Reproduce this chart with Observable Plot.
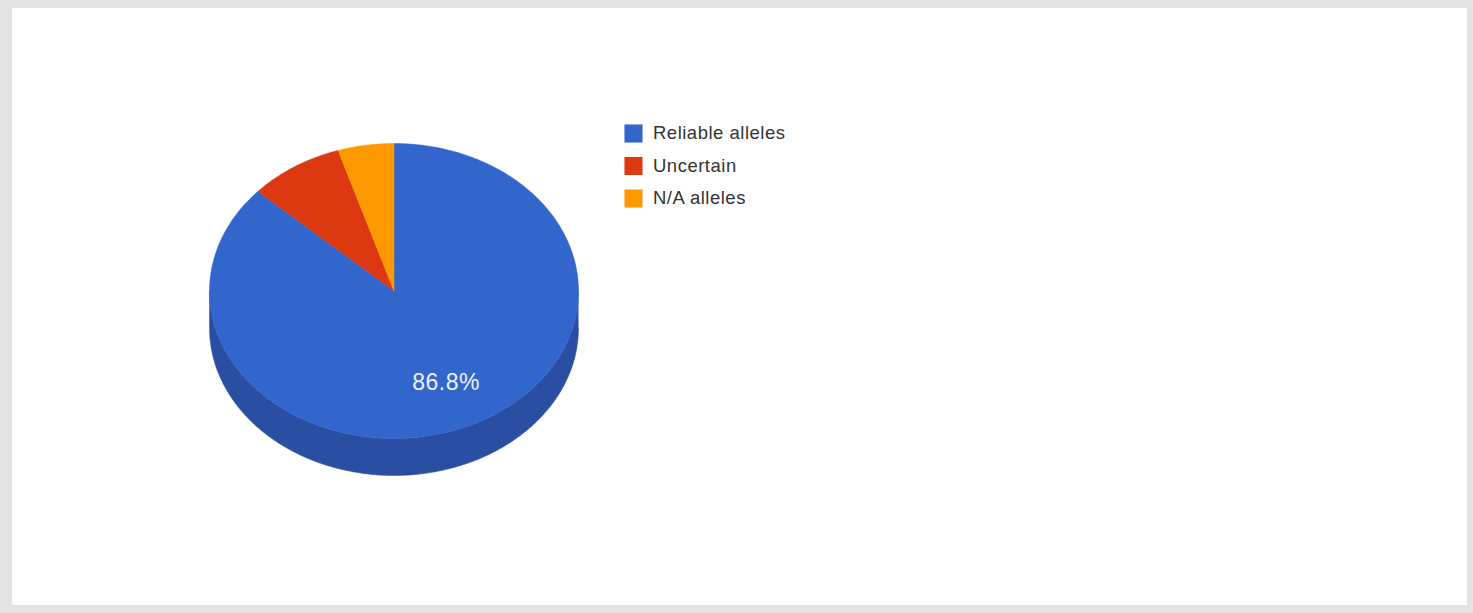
<!DOCTYPE html>
<html>
<head>
<meta charset="utf-8">
<script src="https://cdn.jsdelivr.net/npm/d3@7"></script>
<script src="https://cdn.jsdelivr.net/npm/@observablehq/plot@0.6"></script>
<style>
  html, body { margin: 0; padding: 0; }
  body { width: 1473px; height: 613px; background: #e3e3e3; position: relative; overflow: hidden; }
  #panel { position: absolute; left: 12px; top: 8px; width: 1455px; height: 597px; background: #ffffff; }
  #panel svg { display: block; }
  #panel svg text { letter-spacing: 0.5px; }
</style>
</head>
<body>
<div id="panel"></div>
<script>
// ---- data ----
const categories = ["Reliable alleles", "Uncertain", "N/A alleles"];
const values = [86.8, 8.3, 4.9];
const colors = ["#3366cc", "#dc3912", "#ff9900"];
const sideColor = "#2a4fa2";
const labelText = ["86.8%", "", ""];

// ---- layout ----
const W = 1455, H = 597;
const cx = 381.5, cy = 282.5, rx = 184.5, ry = 147.5, depth = 37;
const pt = (a, dy = 0) => ({x: cx + rx * Math.sin(a), y: cy - ry * Math.cos(a) + dy});

const total = d3.sum(values);
let acc = 0;
const slices = categories.map((c, i) => {
  const a0 = acc / total * 2 * Math.PI;
  acc += values[i];
  const a1 = acc / total * 2 * Math.PI;
  return {category: c, value: values[i], a0, a1, label: labelText[i]};
});

// top face polygons
const topPts = [];
for (const s of slices) {
  topPts.push({category: s.category, x: cx, y: cy});
  const n = Math.max(2, Math.ceil((s.a1 - s.a0) / (Math.PI / 180)));
  for (let k = 0; k <= n; k++) {
    const a = s.a0 + (s.a1 - s.a0) * k / n;
    topPts.push({category: s.category, ...pt(a)});
  }
  topPts.push({category: s.category, x: cx, y: cy});
}

// side wall (front half, PI/2 .. 3PI/2), belongs to the first slice
const sidePts = [];
{
  const b0 = Math.PI / 2, b1 = 3 * Math.PI / 2, n = 180;
  for (let k = 0; k <= n; k++) sidePts.push(pt(b0 + (b1 - b0) * k / n));
  for (let k = n; k >= 0; k--) sidePts.push(pt(b0 + (b1 - b0) * k / n, depth));
}

// labels
const labels = slices.filter(s => s.label).map(s => {
  const m = (s.a0 + s.a1) / 2;
  return {text: s.label, x: cx + 0.7 * rx * Math.sin(m), y: cy - 0.68 * ry * Math.cos(m)};
});

// legend
const legend = categories.map((c, i) => ({category: c, x: 621, y: 125 + i * 32.5}));

const chart = Plot.plot({
  width: W, height: H,
  margin: 0,
  style: {fontFamily: "Arial, 'Liberation Sans', sans-serif", background: "white"},
  x: {domain: [0, W], range: [0, W], axis: null},
  y: {domain: [0, H], range: [0, H], axis: null},
  color: {domain: categories, range: colors},
  marks: [
    Plot.line(sidePts, {x: "x", y: "y", fill: sideColor, stroke: sideColor, strokeWidth: 0.5, curve: "linear"}),
    Plot.line(topPts, {x: "x", y: "y", z: "category", fill: "category", stroke: "category", strokeWidth: 0.5, curve: "linear"}),
    Plot.text(labels, {x: "x", y: "y", text: "text", fill: "#eef2f8", fontSize: 23, textAnchor: "middle"}),
    Plot.dot(legend, {x: "x", y: "y", symbol: "square", r: 10.2, fill: "category", stroke: null}),
    Plot.text(legend, {x: d => d.x + 19.5, y: "y", text: "category", fill: "#333333", fontSize: 18.5, textAnchor: "start"})
  ]
});
document.getElementById("panel").appendChild(chart);
</script>
</body>
</html>
